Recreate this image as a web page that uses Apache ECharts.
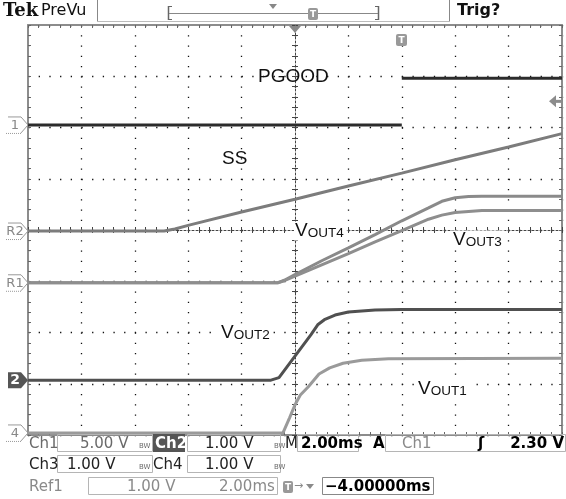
<!DOCTYPE html>
<html><head><meta charset="utf-8">
<script src="https://cdn.jsdelivr.net/npm/echarts@6/dist/echarts.min.js"></script>
<style>html,body{margin:0;padding:0;background:#fff}#c{width:566px;height:499px}</style>
</head><body><div id="c"></div>
<script>
// Time in ms relative to screen centre (2 ms/div); values in screen divisions
const timeRange = [-10, 10];
const divRange = [-4, 4];
const pgoodLow = [[-10, 2.05], [4.0, 2.05]];
const pgoodHigh = [[4.0, 2.96], [10, 2.96]];
const ss = [[-10, -0.02], [-4.9, -0.02], [-4.5, 0.02], [-3.93, 0.1], [-2, 0.35], [0, 0.6], [2, 0.86], [4, 1.11], [6, 1.37], [8, 1.62], [10, 1.88]];
const vout4 = [[-10, -1.03], [-0.65, -1.03], [-0.4, -0.98], [0, -0.87], [1, -0.6], [2, -0.35], [3, -0.09], [4, 0.18], [5, 0.43], [5.5, 0.56], [6, 0.63], [6.5, 0.655], [7, 0.66], [10, 0.66]];
const vout3 = [[-10, -1.03], [-0.65, -1.03], [-0.4, -0.99], [0, -0.9], [1, -0.68], [2, -0.46], [3, -0.23], [4, -0.01], [4.5, 0.1], [5, 0.21], [5.5, 0.29], [6, 0.34], [7, 0.38], [10, 0.38]];
const vout2 = [[-10, -2.93], [-0.9, -2.93], [-0.6, -2.88], [-0.3, -2.67], [0, -2.46], [0.3, -2.25], [0.6, -2.04], [0.85, -1.85], [1.1, -1.75], [1.5, -1.66], [2, -1.6], [3, -1.56], [4, -1.55], [10, -1.55]];
const vout1 = [[-10, -3.96], [-0.45, -3.96], [-0.2, -3.66], [0, -3.41], [0.2, -3.22], [0.5, -3.06], [0.9, -2.81], [1.3, -2.69], [1.8, -2.6], [2.5, -2.54], [3.5, -2.51], [10, -2.5]];
const markerNames = ['1', 'R2', 'R1', '2', '4'];
const markerLevels = [2.05, -0.02, -1.03, -2.93, -3.96];
const trigLevel = 2.05 + 2.30 / 5.00;

const chart = echarts.init(document.getElementById('c'), null, {renderer: 'canvas'});
const gridCol = '#111';
const frameCol = '#8c8c8c';
function borderAxis(pos, split, dash) {
  const isY = pos === 'left' || pos === 'right';
  return {
    type: 'value', min: isY ? divRange[0] : timeRange[0], max: isY ? divRange[1] : timeRange[1],
    interval: isY ? 1 : 2, position: pos,
    axisLine: {show: true, onZero: false, lineStyle: {color: frameCol, width: 2}},
    axisTick: {show: true, inside: true, length: 3, lineStyle: {color: '#666'}},
    minorTick: {show: true, splitNumber: 5, length: 3, lineStyle: {color: '#666'}},
    axisLabel: {show: false},
    splitLine: {show: split, lineStyle: {color: gridCol, width: 1.3, type: dash}}
  };
}
function centerAxis(pos, isY, showLine) {
  return {
    type: 'value', min: isY ? divRange[0] : timeRange[0], max: isY ? divRange[1] : timeRange[1],
    interval: isY ? 1 : 2, position: pos,
    axisLine: {show: showLine, onZero: true, onZeroAxisIndex: 0, lineStyle: {color: '#444', width: 1, type: [2, 2]}},
    axisTick: {show: true, length: 3, lineStyle: {color: '#444'}},
    minorTick: {show: true, splitNumber: 5, length: 3, lineStyle: {color: '#444'}},
    axisLabel: {show: false}, splitLine: {show: false}
  };
}
function trace(data, color, w) {
  return {type: 'line', data: data, xAxisIndex: 0, yAxisIndex: 0, showSymbol: false, symbol: 'none',
    lineStyle: {color: color, width: w || 3}, z: 5, animation: false};
}
const option = {
  animation: false,
  backgroundColor: '#fff',
  grid: {left: 28, right: 4, top: 25, bottom: 64, containLabel: false},
  xAxis: [borderAxis('bottom', true, [1.3, 8.95]), borderAxis('top', false), centerAxis('bottom', false, true), centerAxis('top', false, false)],
  yAxis: [borderAxis('left', true, [1.3, 9.38]), borderAxis('right', false), centerAxis('left', true, true), centerAxis('right', true, false)],
  series: [
    trace(ss, '#7c7c7c'),
    trace(vout4, '#8a8a8a'),
    trace(vout3, '#8e8e8e'),
    trace(vout1, '#9a9a9a'),
    trace(vout2, '#505050'),
    trace(pgoodLow, '#2c2c2c'),
    trace(pgoodHigh, '#2c2c2c')
  ]
};
chart.setOption(option);

const g = [];
const F = 'DejaVu Sans';
function txt(x, y, s, size, color, opts) {
  opts = opts || {};
  g.push({type: 'text', x: x, y: y, z: 20, style: {text: s, fontSize: size, fontFamily: opts.family || F,
    fontWeight: opts.bold ? 'bold' : 'normal', fill: color, textAlign: opts.align || 'left', textVerticalAlign: 'middle'}});
}
function rect(x, y, w, h, fill, stroke) {
  g.push({type: 'rect', z: 15, shape: {x: x, y: y, width: w, height: h},
    style: {fill: fill || 'none', stroke: stroke || null, lineWidth: 1}});
}
function line(x1, y1, x2, y2, col, w, dash) {
  g.push({type: 'line', z: 15, shape: {x1: x1, y1: y1, x2: x2, y2: y2}, style: {stroke: col, lineWidth: w || 1, lineDash: dash || null}});
}
// Main labels
const LF = 'Liberation Sans';
function vlabel(x, y, sub) {
  g.push({type: 'text', x: x, y: y, z: 20, style: {
    text: '{v|V}{s|' + sub + '}', textVerticalAlign: 'middle', fill: '#111',
    backgroundColor: '#fff', padding: [0, 3, 0, 1],
    rich: {v: {fontSize: 19, fontFamily: LF, fill: '#111', verticalAlign: 'bottom'},
           s: {fontSize: 13.5, fontFamily: LF, fill: '#111', verticalAlign: 'bottom'}}}});
}
txt(258, 77, 'PGOOD', 19, '#111', {family: LF});
txt(222, 159, 'SS', 19, '#111', {family: LF});
vlabel(294, 231, 'OUT4');
vlabel(452, 240, 'OUT3');
vlabel(220, 333, 'OUT2');
vlabel(417, 389, 'OUT1');

// Top bar
txt(3, 11, 'Tek', 18, '#111', {family: 'DejaVu Serif', bold: true});
txt(41, 11, 'PreVu', 16, '#111');
line(97.5, 0, 97.5, 21, '#888', 1);
line(449.5, 0, 449.5, 21, '#888', 1);
line(97, 21.5, 450, 21.5, '#bbb', 1);
line(168.5, 6, 168.5, 20, '#666', 1.5);
line(168, 6.5, 172, 6.5, '#666', 1); line(168, 19.5, 172, 19.5, '#666', 1);
line(378.5, 6, 378.5, 20, '#666', 1.5);
line(375, 6.5, 379, 6.5, '#666', 1); line(375, 19.5, 379, 19.5, '#666', 1);
line(169, 13.5, 378, 13.5, '#888', 1);
g.push({type: 'polygon', z: 16, shape: {points: [[269, 4], [277, 4], [273, 9]]}, style: {fill: '#888'}});
g.push({type: 'rect', z: 16, shape: {x: 308, y: 8, width: 10, height: 12, r: 2}, style: {fill: '#999'}});
txt(313, 14.5, 'T', 9, '#fff', {bold: true, align: 'center'});
txt(457, 11, 'Trig?', 16, '#111', {bold: true});

// Top graticule centre marker and trigger T
g.push({type: 'polygon', z: 16, shape: {points: [[289, 26], [301, 26], [295, 33]]}, style: {fill: '#888'}});
g.push({type: 'rect', z: 16, shape: {x: 396, y: 34, width: 11, height: 12, r: 2}, style: {fill: '#999'}});
txt(401.5, 40.5, 'T', 9, '#fff', {bold: true, align: 'center'});

// Bottom status area
const c1 = '#6a6a6a', c2 = '#222', c3 = '#8a8a8a';
const boxCol = '#b5b5b5';
rect(57.5, 434.5, 95, 17, null, boxCol);
rect(187.5, 434.5, 93, 17, null, boxCol);
rect(297.5, 434.5, 61, 17, null, boxCol);
rect(385.5, 434.5, 180, 17, null, boxCol);
rect(57.5, 455.5, 95, 17, null, boxCol);
rect(187.5, 455.5, 93, 17, null, boxCol);
rect(88.5, 477.5, 189, 17, null, boxCol);
rect(322.5, 477.5, 111, 17, null, '#888');
txt(29, 444, 'Ch1', 15, c1);
txt(80, 444, '5.00 V', 15, c1);
txt(139, 446, 'BW', 7, c1);
rect(153, 434, 32, 18, '#555');
txt(155, 444, 'Ch2', 15, '#fff', {bold: true});
txt(205, 444, '1.00 V', 15, c2);
txt(274, 446, 'BW', 7, c1);
txt(285, 444, 'M', 15, c2);
txt(301, 444, '2.00ms', 15, '#000', {bold: true});
txt(373, 444, 'A', 15, '#000', {bold: true});
txt(402, 444, 'Ch1', 15, c3);
txt(478, 444, '\u0283', 15, '#000', {bold: true});
txt(564, 444, '2.30 V', 15, '#000', {bold: true, align: 'right'});
txt(29, 465, 'Ch3', 15, c2);
txt(67, 465, '1.00 V', 15, c2);
txt(139, 467, 'BW', 7, c1);
txt(153, 465, 'Ch4', 15, c2);
txt(205, 465, '1.00 V', 15, c2);
txt(274, 467, 'BW', 7, c1);
txt(29, 487, 'Ref1', 15, c3);
txt(127, 487, '1.00 V', 15, c3);
txt(219, 487, '2.00ms', 15, c3);
g.push({type: 'rect', z: 16, shape: {x: 283, y: 481, width: 10, height: 12, r: 2}, style: {fill: '#999'}});
txt(288, 487.5, 'T', 9, '#fff', {bold: true, align: 'center'});
txt(294, 486, '\u2192', 11, c3);
g.push({type: 'polygon', z: 16, shape: {points: [[306, 484], [314, 484], [310, 489]]}, style: {fill: c3}});
txt(325, 487, '\u22124.00000ms', 15, '#000', {bold: true});

// Channel ground markers (positioned from levels through the y axis)
markerNames.forEach(function (nm, i) {
  const y = chart.convertToPixel({yAxisIndex: 0}, markerLevels[i]);
  const pts = [[8, y - 8], [21, y - 8], [28, y], [21, y + 8], [8, y + 8]];
  if (nm === '2') {
    g.push({type: 'polygon', z: 16, shape: {points: pts}, style: {fill: '#555'}});
    txt(15, y + 0.5, nm, 14, '#fff', {bold: true, align: 'center'});
  } else {
    g.push({type: 'polyline', z: 16, shape: {points: [[8, y - 8], [21, y - 8], [28, y], [21, y + 8]]}, style: {stroke: '#999', lineWidth: 1}});
    line(6, y + 8.5, 21, y + 8.5, '#999', 1, [1, 1]);
    txt(15, y + 0.5, nm, 13, '#888', {align: 'center'});
  }
});
// Trigger level arrow on right
const ty = chart.convertToPixel({yAxisIndex: 0}, trigLevel);
g.push({type: 'polygon', z: 16, shape: {points: [[549, ty], [556, ty - 6], [556, ty + 6]]}, style: {fill: '#8c8c8c'}});
line(555, ty, 562, ty, '#8c8c8c', 3);

chart.setOption({graphic: g});
</script></body></html>
